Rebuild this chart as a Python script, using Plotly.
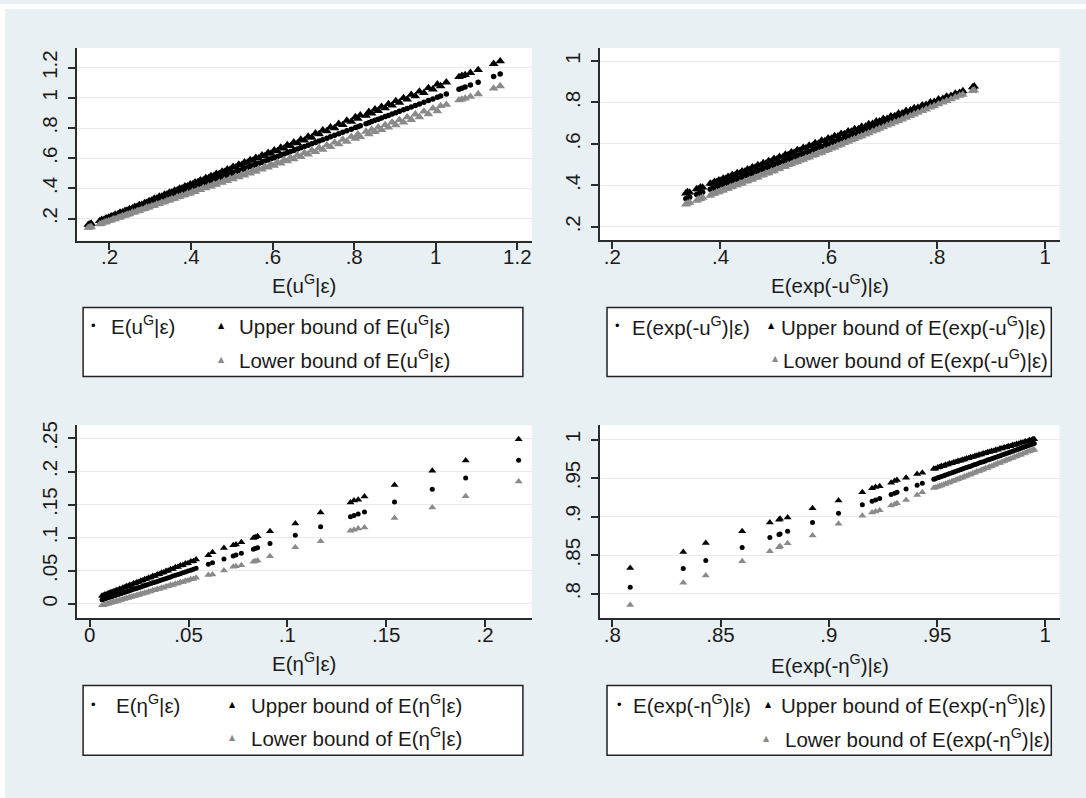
import plotly.graph_objects as go

W, H = 1086, 798
BG = "#e9f0f3"
GRAY = "#8a8a8a"
INK = "#1a1a1a"
FONT = "Liberation Sans, Arial, sans-serif"
FS = 20.5

# ---------------- Panel 1: E(u|e) ----------------
u_mean = [0.148,0.152,0.155,0.176,0.181,0.187,0.192,0.198,0.204,0.209,0.214,0.221,0.226,0.232,0.238,0.243,0.249,0.256,0.262,0.268,
          0.273,0.279,0.286,0.291,0.297,0.304,0.31,0.316,0.322,0.328,0.335,0.341,0.347,0.353,0.36,0.366,0.372,0.378,0.385,0.391,
          0.398,0.404,0.41,0.417,0.423,0.43,0.436,0.443,0.449,0.456,0.462,0.469,0.476,0.482,0.489,0.496,0.503,0.51,0.517,0.524,
          0.531,0.538,0.545,0.552,0.559,0.566,0.574,0.581,0.589,0.596,0.604,0.612,0.62,0.628,0.636,0.644,0.652,0.661,0.669,0.678,
          0.687,0.696,0.705,0.714,0.723,0.733,0.742,0.752,0.762,0.772,0.782,0.793,0.803,0.809,0.815,0.829,0.836,0.843,0.851,0.859,
          0.867,0.876,0.884,0.893,0.902,0.911,0.921,0.93,0.94,0.95,0.96,0.971,0.982,0.993,1.004,1.012,1.026,1.057,1.064,1.072,
          1.085,1.104,1.142,1.158]
u_upper = [0.160,0.163,0.167,0.185,0.192,0.195,0.203,0.207,0.216,0.218,0.227,0.231,0.240,0.242,0.252,0.254,0.264,0.268,0.278,0.280,
           0.290,0.292,0.304,0.305,0.316,0.322,0.333,0.334,0.346,0.347,0.360,0.361,0.373,0.374,0.387,0.388,0.400,0.401,0.414,0.414,
           0.428,0.428,0.441,0.442,0.455,0.455,0.469,0.469,0.483,0.483,0.497,0.497,0.512,0.511,0.527,0.525,0.543,0.541,0.558,0.556,
           0.573,0.571,0.589,0.585,0.604,0.600,0.620,0.615,0.637,0.631,0.653,0.648,0.671,0.665,0.688,0.682,0.706,0.700,0.724,0.718,
           0.744,0.737,0.765,0.760,0.785,0.780,0.806,0.800,0.828,0.821,0.850,0.843,0.873,0.862,0.885,0.882,0.908,0.897,0.924,0.914,
           0.942,0.932,0.960,0.950,0.980,0.969,1.000,0.990,1.021,1.011,1.043,1.033,1.066,1.057,1.090,1.078,1.103,1.139,1.146,1.152,
           1.166,1.185,1.226,1.243]
u_lower = [0.140,0.142,0.146,0.163,0.167,0.175,0.177,0.185,0.188,0.196,0.197,0.206,0.209,0.217,0.220,0.227,0.230,0.240,0.242,0.250,
           0.252,0.261,0.264,0.273,0.275,0.284,0.286,0.296,0.297,0.307,0.309,0.319,0.321,0.330,0.332,0.343,0.344,0.354,0.355,0.366,
           0.367,0.378,0.378,0.390,0.390,0.403,0.402,0.415,0.414,0.427,0.426,0.440,0.438,0.452,0.450,0.466,0.462,0.479,0.475,0.492,
           0.487,0.505,0.500,0.518,0.512,0.531,0.526,0.545,0.539,0.559,0.552,0.574,0.566,0.589,0.581,0.604,0.595,0.620,0.610,0.636,
           0.626,0.652,0.642,0.669,0.658,0.687,0.675,0.705,0.693,0.724,0.711,0.743,0.730,0.759,0.741,0.777,0.760,0.790,0.774,0.805,
           0.788,0.821,0.804,0.837,0.820,0.854,0.837,0.872,0.855,0.891,0.873,0.910,0.893,0.930,0.913,0.947,0.955,0.985,0.990,0.996,
           1.008,1.025,1.063,1.078]

# ---------------- Panel 2: E(exp(-u)|e) ----------------
eu_mean = [0.336,0.339,0.343,0.356,0.359,0.363,0.367,0.381,0.385,0.389,0.393,0.397,0.401,0.405,0.409,0.414,0.418,0.422,0.427,0.431,
           0.436,0.44,0.445,0.45,0.454,0.459,0.464,0.469,0.474,0.479,0.484,0.489,0.494,0.499,0.504,0.509,0.515,0.52,0.525,0.531,
           0.536,0.542,0.547,0.553,0.558,0.564,0.57,0.575,0.581,0.587,0.593,0.599,0.605,0.611,0.617,0.623,0.629,0.636,0.642,0.648,
           0.655,0.661,0.668,0.674,0.681,0.688,0.694,0.701,0.708,0.715,0.722,0.729,0.736,0.743,0.751,0.758,0.765,0.773,0.78,0.788,
           0.795,0.803,0.811,0.818,0.826,0.834,0.842,0.848,0.866,0.869]
eu_upper = [0.362,0.368,0.366,0.383,0.381,0.391,0.390,0.409,0.408,0.417,0.416,0.425,0.423,0.433,0.432,0.442,0.440,0.451,0.449,0.460,
            0.458,0.468,0.467,0.478,0.476,0.488,0.486,0.498,0.495,0.508,0.505,0.518,0.515,0.528,0.525,0.538,0.536,0.549,0.546,0.560,
            0.557,0.571,0.568,0.582,0.579,0.593,0.591,0.604,0.602,0.616,0.614,0.627,0.626,0.638,0.637,0.649,0.648,0.661,0.660,0.672,
            0.672,0.684,0.684,0.696,0.697,0.709,0.709,0.721,0.722,0.734,0.735,0.747,0.748,0.760,0.762,0.773,0.775,0.787,0.789,0.801,
            0.803,0.815,0.818,0.829,0.832,0.843,0.847,0.855,0.874,0.878]
eu_lower = [0.309,0.313,0.317,0.327,0.333,0.335,0.341,0.351,0.359,0.360,0.367,0.368,0.375,0.376,0.383,0.384,0.392,0.393,0.401,0.401,
            0.410,0.410,0.419,0.420,0.428,0.429,0.438,0.439,0.448,0.449,0.458,0.459,0.468,0.469,0.478,0.480,0.489,0.491,0.499,0.502,
            0.510,0.513,0.521,0.524,0.532,0.535,0.544,0.547,0.555,0.558,0.567,0.571,0.579,0.584,0.592,0.597,0.605,0.611,0.618,0.624,
            0.632,0.638,0.646,0.652,0.660,0.667,0.674,0.681,0.689,0.696,0.704,0.711,0.719,0.727,0.735,0.743,0.751,0.759,0.767,0.776,
            0.783,0.792,0.800,0.808,0.816,0.825,0.833,0.838,0.856,0.859]

# ---------------- Panel 3: E(eta|e) ----------------
eta_mean = [0.0062,0.0068,0.0075,0.0081,0.0089,0.0096,0.0104,0.0111,0.0119,0.0127,0.0134,0.0143,0.0151,0.0159,0.0168,0.0176,0.0185,
            0.0194,0.0202,0.0211,0.0221,0.0230,0.0239,0.0249,0.0258,0.0268,0.0278,0.0288,0.0298,0.0309,0.0319,0.0330,0.0341,0.0352,
            0.0363,0.0374,0.0386,0.0397,0.0409,0.0421,0.0433,0.0446,0.0458,0.0471,0.0484,0.0497,0.0511,0.0524,0.0538,
            0.060,0.0621,0.0679,0.0726,0.074,0.0767,0.0828,0.0837,0.0849,0.0912,0.104,0.1168,0.1319,0.1337,0.1358,0.139,
            0.1542,0.1733,0.1902,0.217]
eta_upper = [0.0124,0.0125,0.0139,0.0140,0.0156,0.0157,0.0173,0.0174,0.0190,0.0191,0.0208,0.0210,0.0227,0.0228,0.0247,0.0248,0.0266,
             0.0268,0.0286,0.0288,0.0308,0.0310,0.0329,0.0331,0.0351,0.0353,0.0374,0.0376,0.0397,0.0400,0.0421,0.0424,0.0447,0.0449,
             0.0472,0.0474,0.0498,0.0501,0.0525,0.0529,0.0553,0.0557,0.0581,0.0586,0.0611,0.0616,0.0642,0.0647,0.0671,
             0.0736,0.078,0.0847,0.0887,0.0897,0.0932,0.0997,0.1007,0.1022,0.1097,0.1217,0.1383,0.1533,0.1563,0.1573,0.1623,
             0.1799,0.2014,0.2169,0.249]
eta_lower = [-0.0019,-0.0020,-0.0007,-0.0009,0.0006,0.0004,0.0019,0.0017,0.0032,0.0031,0.0045,0.0045,0.0060,0.0059,0.0075,0.0074,0.0090,
             0.0089,0.0104,0.0104,0.0121,0.0121,0.0136,0.0137,0.0153,0.0154,0.0171,0.0171,0.0188,0.0190,0.0206,0.0208,0.0226,0.0227,
             0.0245,0.0246,0.0265,0.0267,0.0285,0.0288,0.0306,0.0310,0.0328,0.0331,0.0351,0.0354,0.0374,0.0378,0.0397,
             0.0436,0.0446,0.0506,0.0561,0.0571,0.0586,0.0636,0.0646,0.0656,0.0721,0.0857,0.0947,0.1107,0.1122,0.1142,0.1157,
             0.1298,0.1458,0.1628,0.1849]

# ---------------- Panel 4: E(exp(-eta)|e) ----------------
eeta_mean = [0.8083,0.8328,0.8432,0.86,0.8728,0.877,0.8775,0.881,0.8925,0.9045,0.9155,0.92,0.9216,0.9235,0.9288,0.9304,0.9315,0.9357,
             0.9408,0.9432,
             0.9485,0.9492,0.9503,0.9511,0.9520,0.9531,0.9539,0.9550,0.9558,0.9569,0.9578,0.9588,0.9597,0.9607,0.9617,0.9626,0.9636,
             0.9646,0.9655,0.9665,0.9675,0.9684,0.9694,0.9704,0.9713,0.9723,0.9733,0.9742,0.9752,0.9762,0.9771,0.9781,0.9791,0.9800,
             0.9810,0.9820,0.9829,0.9839,0.9849,0.9858,0.9868,0.9878,0.9887,0.9897,0.9907,0.9916,0.9926,0.9935,0.9943,0.9949]
eeta_upper = [0.8335,0.8542,0.8658,0.8809,0.8925,0.8959,0.8972,0.8989,0.911,0.9209,0.9316,0.9368,0.9385,0.9394,0.9441,0.9462,0.9475,0.9505,
              0.9553,0.957,
              0.9620,0.9622,0.9638,0.9640,0.9656,0.9658,0.9672,0.9675,0.9689,0.9692,0.9706,0.9708,0.9722,0.9724,0.9739,0.9740,0.9755,
              0.9757,0.9771,0.9773,0.9787,0.9789,0.9803,0.9805,0.9819,0.9821,0.9835,0.9837,0.9851,0.9852,0.9866,0.9868,0.9882,0.9883,
              0.9897,0.9899,0.9912,0.9914,0.9928,0.9929,0.9943,0.9945,0.9958,0.9960,0.9973,0.9975,0.9989,0.9991,1.0003,1.0005]
eeta_lower = [0.7854,0.8142,0.8237,0.8422,0.855,0.8602,0.8615,0.8654,0.8757,0.8908,0.9011,0.9054,0.9067,0.9084,0.9144,0.9161,0.9174,0.9217,
              0.9282,0.9316,
              0.9370,0.9379,0.9386,0.9398,0.9404,0.9418,0.9424,0.9438,0.9444,0.9458,0.9464,0.9479,0.9485,0.9500,0.9505,0.9521,0.9526,
              0.9542,0.9547,0.9563,0.9569,0.9584,0.9590,0.9606,0.9611,0.9627,0.9632,0.9648,0.9654,0.9670,0.9675,0.9691,0.9697,0.9712,
              0.9718,0.9734,0.9740,0.9755,0.9761,0.9777,0.9783,0.9798,0.9804,0.9820,0.9826,0.9842,0.9848,0.9858,0.9863,0.9869]

# ---------------- Tick labels ----------------
tl_ticks = [0.2, 0.4, 0.6, 0.8, 1.0, 1.2]
tl_text = [".2", ".4", ".6", ".8", "1", "1.2"]
tr_ticks = [0.2, 0.4, 0.6, 0.8, 1.0]
tr_text = [".2", ".4", ".6", ".8", "1"]
bl_xticks = [0, 0.05, 0.1, 0.15, 0.2]
bl_xtext = ["0", ".05", ".1", ".15", ".2"]
bl_yticks = [0, 0.05, 0.1, 0.15, 0.2, 0.25]
bl_ytext = ["0", ".05", ".1", ".15", ".2", ".25"]
br_ticks = [0.8, 0.85, 0.9, 0.95, 1.0]
br_text = [".8", ".85", ".9", ".95", "1"]

titles = ["E(u<sup>G</sup>|ε)", "E(exp(-u<sup>G</sup>)|ε)", "E(η<sup>G</sup>|ε)", "E(exp(-η<sup>G</sup>)|ε)"]
legend_upper = ["Upper bound of " + t for t in titles]
legend_lower = ["Lower bound of " + t for t in titles]


def fx(px):
    return px / W


def fy(py):
    return 1 - py / H


panels = [
    dict(x=u_mean, up=u_upper, lo=u_lower, ax="x", ay="y", tri_size=8.5, dot_size=5.5,
         dom_x=(76.7, 531.7), dom_y=(44.3, 237.7), xr=[0.1196, 1.2353], yr=[0.055, 1.33],
         xt=tl_ticks, xtt=tl_text, yt=tl_ticks, ytt=tl_text,
         title_xy=(304.2, 281.7),
         box=(83.1, 305, 522.9, 374.3),
         dot=(93.5, 323), t1=109, tri=(221.6, 323), t2=237.2, tri2=(221.6, 357), t3=237.2, row2=357),
    dict(x=eu_mean, up=eu_upper, lo=eu_lower, ax="x2", ay="y2", tri_size=8.5, dot_size=5.5,
         dom_x=(600.1, 1059.6), dom_y=(44.3, 237.3), xr=[0.1775, 1.0268], yr=[0.136, 1.0624],
         xt=tr_ticks, xtt=tr_text, yt=tr_ticks, ytt=tr_text,
         title_xy=(829.9, 281.7),
         box=(607.0, 305, 1051.3, 374.3),
         dot=(617.4, 323.5), t1=629.6, tri=(771.5, 323.5), t2=778.5, tri2=(775.7, 356.5), t3=781.2, row2=356.5),
    dict(x=eta_mean, up=eta_upper, lo=eta_lower, ax="x3", ay="y3", tri_size=7, dot_size=5,
         dom_x=(76.7, 531.7), dom_y=(423.3, 617.3), xr=[-0.0066, 0.2236], yr=[-0.0215, 0.2701],
         xt=bl_xticks, xtt=bl_xtext, yt=bl_yticks, ytt=bl_ytext,
         title_xy=(304.2, 661.7),
         box=(83.1, 685, 522.9, 755),
         dot=(93.5, 704), t1=114.3, tri=(232.7, 704), t2=249.3, tri2=(232.7, 737), t3=249.3, row2=737),
    dict(x=eeta_mean, up=eeta_upper, lo=eeta_lower, ax="x4", ay="y4", tri_size=7, dot_size=5,
         dom_x=(600.1, 1059.6), dom_y=(423.3, 617.3), xr=[0.7944, 1.0066], yr=[0.7683, 1.0186],
         xt=br_ticks, xtt=br_text, yt=br_ticks, ytt=br_text,
         title_xy=(829.9, 663.3),
         box=(607.0, 685, 1051.3, 755),
         dot=(619.2, 704), t1=631.3, tri=(768.0, 704), t2=778.5, tri2=(766.3, 738), t3=783.0, row2=738),
]

fig = go.Figure()
annotations = []
shapes = [
    dict(type="rect", xref="paper", yref="paper", x0=0, x1=1, y0=fy(5), y1=1,
         fillcolor="white", line=dict(width=0), layer="below"),
    dict(type="rect", xref="paper", yref="paper", x0=0, x1=fx(5), y0=0, y1=1,
         fillcolor="white", line=dict(width=0), layer="below"),
]
layout_axes = {}

for i, p in enumerate(panels):
    fig.add_trace(go.Scatter(x=p["x"], y=p["x"], mode="markers", xaxis=p["ax"], yaxis=p["ay"],
                             marker=dict(symbol="circle", size=p["dot_size"], color="black", line=dict(width=0)),
                             showlegend=False, hoverinfo="skip"))
    fig.add_trace(go.Scatter(x=p["x"], y=p["up"], mode="markers", xaxis=p["ax"], yaxis=p["ay"],
                             marker=dict(symbol="triangle-up", size=p["tri_size"], color="black", line=dict(width=0)),
                             showlegend=False, hoverinfo="skip"))
    fig.add_trace(go.Scatter(x=p["x"], y=p["lo"], mode="markers", xaxis=p["ax"], yaxis=p["ay"],
                             marker=dict(symbol="triangle-up", size=p["tri_size"], color=GRAY, line=dict(width=0)),
                             showlegend=False, hoverinfo="skip"))

    xname = "xaxis" if p["ax"] == "x" else "xaxis" + p["ax"][1:]
    yname = "yaxis" if p["ay"] == "y" else "yaxis" + p["ay"][1:]
    layout_axes[xname] = dict(
        domain=[fx(p["dom_x"][0]), fx(p["dom_x"][1])], range=p["xr"], anchor=p["ay"],
        tickmode="array", tickvals=p["xt"], ticktext=p["xtt"], ticklabelstandoff=-10,
        showgrid=False, zeroline=False, showline=True, linecolor="#2b2b2b", linewidth=2,
        ticks="outside", ticklen=7, tickwidth=1.5, tickcolor="#2b2b2b",
        tickfont=dict(family=FONT, size=FS, color=INK), fixedrange=True)
    layout_axes[yname] = dict(
        domain=[fy(p["dom_y"][1]), fy(p["dom_y"][0])], range=p["yr"], anchor=p["ax"],
        tickmode="array", tickvals=p["yt"], ticktext=p["ytt"], tickangle=-90,
        ticklabelstandoff=3,
        showgrid=True, gridcolor="#eaeaea", gridwidth=1,
        zeroline=False, showline=True, linecolor="#2b2b2b", linewidth=1.5,
        ticks="outside", ticklen=7, tickwidth=1.5, tickcolor="#2b2b2b",
        tickfont=dict(family=FONT, size=FS, color=INK), fixedrange=True)

    # axis title
    annotations.append(dict(text=titles[i], x=fx(p["title_xy"][0]), y=fy(p["title_xy"][1]),
                            xref="paper", yref="paper", xanchor="center", yanchor="middle",
                            showarrow=False, font=dict(family=FONT, size=FS, color=INK)))
    # legend box
    bx0, by0, bx1, by1 = p["box"]
    shapes.append(dict(type="rect", xref="paper", yref="paper",
                       x0=fx(bx0), x1=fx(bx1), y0=fy(by1), y1=fy(by0),
                       fillcolor="white", line=dict(color="#222222", width=1.5)))
    # legend glyphs
    annotations.append(dict(text="•", x=fx(p["dot"][0]), y=fy(p["dot"][1]), xref="paper", yref="paper",
                            xanchor="center", yanchor="middle", showarrow=False,
                            font=dict(family=FONT, size=13, color="black")))
    annotations.append(dict(text="▲", x=fx(p["tri"][0]), y=fy(p["tri"][1]), xref="paper", yref="paper",
                            xanchor="center", yanchor="middle", showarrow=False,
                            font=dict(family="DejaVu Sans", size=8, color="black")))
    annotations.append(dict(text="▲", x=fx(p["tri2"][0]), y=fy(p["tri2"][1]), xref="paper", yref="paper",
                            xanchor="center", yanchor="middle", showarrow=False,
                            font=dict(family="DejaVu Sans", size=8, color=GRAY)))
    # legend texts
    annotations.append(dict(text=titles[i], x=fx(p["t1"]), y=fy(p["dot"][1]), xref="paper", yref="paper",
                            xanchor="left", yanchor="middle", showarrow=False,
                            font=dict(family=FONT, size=FS, color=INK)))
    annotations.append(dict(text=legend_upper[i], x=fx(p["t2"]), y=fy(p["tri"][1]), xref="paper", yref="paper",
                            xanchor="left", yanchor="middle", showarrow=False,
                            font=dict(family=FONT, size=FS, color=INK)))
    annotations.append(dict(text=legend_lower[i], x=fx(p["t3"]), y=fy(p["row2"]), xref="paper", yref="paper",
                            xanchor="left", yanchor="middle", showarrow=False,
                            font=dict(family=FONT, size=FS, color=INK)))

fig.update_layout(
    width=W, height=H, autosize=False,
    margin=dict(l=0, r=0, t=0, b=0, pad=0),
    paper_bgcolor=BG, plot_bgcolor="white",
    showlegend=False,
    font=dict(family=FONT, size=FS, color=INK),
    annotations=annotations, shapes=shapes,
    **layout_axes,
)

fig.write_html("out.html", config={"displayModeBar": False},
               post_script="document.body.style.margin='0px';document.body.style.overflow='hidden';")
